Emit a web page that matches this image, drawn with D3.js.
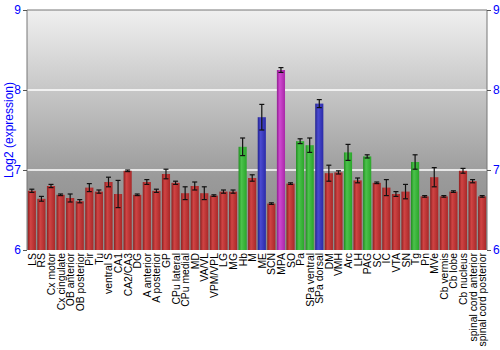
<!DOCTYPE html>
<html><head><meta charset="utf-8">
<script src="https://cdn.jsdelivr.net/npm/d3@7"></script>
<style>body{margin:0;background:#fff}svg{display:block;font-family:"Liberation Sans",Arial,sans-serif}</style>
</head><body><svg id="c" width="500" height="350"></svg>
<script>
const categories = ["LS","RS","Cx motor","Cx cingulate","OB anterior","OB posterior","Pir","Tu","ventral S","CA1","CA2/CA3","DG","A anterior","A posterior","GP","CPu lateral","CPu medial","MD","VA/VL","VPM/VPL","LG","MG","Hb","M","ME","SCN","MPA","SO","Pa","SPa ventral","SPa dorsal","DM","VMH","Arc","LH","PAG","SC","IC","VTA","SN","Tg","Pn","MVe","Cb vermis","Cb lobe","Cb nucleus","spinal cord anterior","spinal cord posterior"];
const values = [6.74,6.64,6.80,6.69,6.65,6.61,6.78,6.73,6.85,6.70,6.99,6.69,6.85,6.74,6.95,6.84,6.71,6.80,6.71,6.68,6.73,6.73,7.29,6.90,7.66,6.58,8.25,6.83,7.36,7.31,7.83,6.96,6.97,7.22,6.87,7.17,6.84,6.78,6.70,6.73,7.10,6.67,6.91,6.67,6.73,6.99,6.86,6.67];
const errors = [0.02,0.03,0.02,0.01,0.05,0.02,0.05,0.02,0.06,0.17,0.01,0.01,0.03,0.02,0.06,0.02,0.08,0.05,0.08,0.01,0.02,0.02,0.11,0.04,0.16,0.01,0.03,0.01,0.03,0.09,0.05,0.1,0.02,0.1,0.03,0.02,0.01,0.1,0.03,0.09,0.09,0.01,0.12,0.01,0.01,0.03,0.02,0.01];
const groups = ["r","r","r","r","r","r","r","r","r","r","r","r","r","r","r","r","r","r","r","r","r","r","g","r","b","r","m","r","g","g","b","r","r","g","r","g","r","r","r","r","g","r","r","r","r","r","r","r"];
const yTicks = [6,7,8,9];

const svg = d3.select("#c");
const m = {l:27, r:13, t:10, b:100};
const W = 500 - m.l - m.r, H = 350 - m.t - m.b;
const x = d3.scaleBand().domain(categories).range([m.l, m.l+W]).paddingInner(0.15).paddingOuter(0.08);
const y = d3.scaleLinear().domain([6,9]).range([m.t+H, m.t]);

const defs = svg.append("defs");
const bg = defs.append("linearGradient").attr("id","bg").attr("x1",0).attr("y1",0).attr("x2",0).attr("y2",1);
bg.append("stop").attr("offset","0%").attr("stop-color","#f0f0f0");
bg.append("stop").attr("offset","70%").attr("stop-color","#9a9a9a");
bg.append("stop").attr("offset","100%").attr("stop-color","#8a8a8a");
const cols = {r:["#8e1f1f","#d04444","#a82828"], g:["#1f8e1f","#4cc24c","#2aa62a"], b:["#22228e","#4a4ad0","#2a2aa8"], m:["#8e1f8e","#d048d0","#a828a8"]};
Object.entries(cols).forEach(([k,c])=>{
  const g = defs.append("linearGradient").attr("id","grad"+k).attr("x1",0).attr("y1",0).attr("x2",1).attr("y2",0);
  g.append("stop").attr("offset","0%").attr("stop-color",c[0]);
  g.append("stop").attr("offset","35%").attr("stop-color",c[1]);
  g.append("stop").attr("offset","100%").attr("stop-color",c[2]);
});

svg.append("rect").attr("x",m.l).attr("y",m.t).attr("width",W).attr("height",H).attr("fill","url(#bg)");
svg.append("g").selectAll("line").data([7,8]).join("line")
  .attr("x1",m.l).attr("x2",m.l+W).attr("y1",d=>y(d)).attr("y2",d=>y(d))
  .attr("stroke","#fff").attr("stroke-width",1.5);

const data = categories.map((c,i)=>({c, v:values[i], e:errors[i], g:groups[i]}));
svg.append("g").selectAll("rect").data(data).join("rect")
  .attr("x",d=>x(d.c)).attr("width",x.bandwidth())
  .attr("y",d=>y(d.v)).attr("height",d=>y(6)-y(d.v))
  .attr("fill",d=>"url(#grad"+d.g+")");

const eg = svg.append("g").attr("stroke","#111").attr("stroke-width",1.2);
data.forEach(d=>{
  const cx = x(d.c)+x.bandwidth()/2;
  eg.append("line").attr("x1",cx).attr("x2",cx).attr("y1",y(d.v+d.e)).attr("y2",y(d.v-d.e));
  [d.v+d.e,d.v-d.e].forEach(v=>eg.append("line").attr("x1",cx-2.5).attr("x2",cx+2.5).attr("y1",y(v)).attr("y2",y(v)));
});

svg.append("path").attr("d",`M${m.l},${m.t+H}V${m.t}H${m.l+W}V${m.t+H}`).attr("fill","none").attr("stroke","#777").attr("stroke-width",1);

const ax = g=>{g.select(".domain").remove(); g.selectAll("text").attr("fill","#0000ff").attr("font-size",12).attr("font-family","Liberation Sans, Arial, sans-serif"); g.selectAll(".tick line").attr("stroke","#555");};
svg.append("g").attr("transform",`translate(${m.l},0)`).call(d3.axisLeft(y).tickValues(yTicks).tickFormat(d3.format("d")).tickSize(4).tickPadding(2)).call(ax);
svg.append("g").attr("transform",`translate(${m.l+W},0)`).call(d3.axisRight(y).tickValues(yTicks).tickFormat(d3.format("d")).tickSize(4).tickPadding(2)).call(ax);

svg.append("g").selectAll("text").data(categories).join("text")
  .attr("transform",d=>`translate(${x(d)+x.bandwidth()/2+4},${m.t+H+3}) rotate(-90)`)
  .attr("text-anchor","end").attr("font-size",10.4).attr("fill","#000").text(d=>d);

svg.append("text").attr("transform",`translate(13,${m.t+H/2}) rotate(-90)`)
  .attr("text-anchor","middle").attr("fill","#0000ff").attr("font-size",12).text("Log2 (expression)");
</script></body></html>
